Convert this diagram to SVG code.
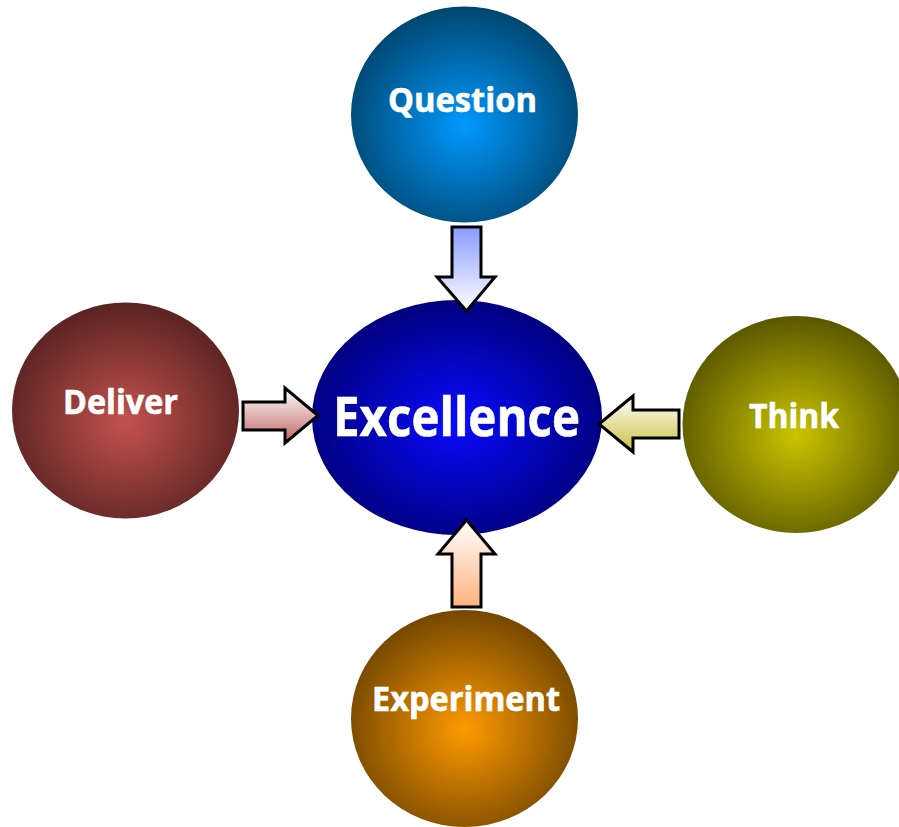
<svg xmlns="http://www.w3.org/2000/svg" width="899" height="827" viewBox="0 0 899 827">
  <defs>
    <radialGradient id="gQuestion" cx="50%" cy="55%" r="55%">
      <stop offset="0" stop-color="#0099ff"/>
      <stop offset="1" stop-color="#00466f"/>
    </radialGradient>
    <radialGradient id="gExcellence" cx="50%" cy="52%" r="55%">
      <stop offset="0" stop-color="#0a0aff"/>
      <stop offset="1" stop-color="#000078"/>
    </radialGradient>
    <radialGradient id="gDeliver" cx="50%" cy="55%" r="55%">
      <stop offset="0" stop-color="#c4524f"/>
      <stop offset="1" stop-color="#5a2322"/>
    </radialGradient>
    <radialGradient id="gThink" cx="50%" cy="55%" r="55%">
      <stop offset="0" stop-color="#cbc400"/>
      <stop offset="1" stop-color="#5a5800"/>
    </radialGradient>
    <radialGradient id="gExperiment" cx="50%" cy="55%" r="55%">
      <stop offset="0" stop-color="#ff9a00"/>
      <stop offset="1" stop-color="#744700"/>
    </radialGradient>
    <linearGradient id="aDown" x1="0" y1="0" x2="0" y2="1">
      <stop offset="0" stop-color="#8a9bff"/>
      <stop offset="1" stop-color="#ffffff"/>
    </linearGradient>
    <linearGradient id="aRight" x1="0" y1="0" x2="0" y2="1">
      <stop offset="0" stop-color="#ffffff"/>
      <stop offset="1" stop-color="#bd6664"/>
    </linearGradient>
    <linearGradient id="aLeft" x1="0" y1="0" x2="0" y2="1">
      <stop offset="0" stop-color="#ffffff"/>
      <stop offset="1" stop-color="#c9c03c"/>
    </linearGradient>
    <linearGradient id="aUp" x1="0" y1="0" x2="0" y2="1">
      <stop offset="0" stop-color="#ffffff"/>
      <stop offset="1" stop-color="#ffb27e"/>
    </linearGradient>
    <style>
      .lbl { font-family: "Open Sans", "Liberation Sans", sans-serif; font-weight: bold; fill: #ffffff; text-anchor: middle; stroke: #ffffff; stroke-width: 0.6; }
      .arrow { stroke: #000000; stroke-width: 3; stroke-linejoin: miter; }
    </style>
  </defs>

  <rect width="899" height="827" fill="#ffffff"/>

  <g id="question">
    <ellipse cx="464.5" cy="114.5" rx="113.5" ry="108" fill="url(#gQuestion)"/>
    <text class="lbl" x="462.5" y="111.5" font-size="34" textLength="149" lengthAdjust="spacingAndGlyphs">Question</text>
  </g>

  <g id="deliver">
    <ellipse cx="125.5" cy="410.5" rx="113.5" ry="108" fill="url(#gDeliver)"/>
    <text class="lbl" x="120.5" y="414" font-size="34" textLength="115" lengthAdjust="spacingAndGlyphs">Deliver</text>
  </g>

  <g id="think">
    <ellipse cx="796" cy="424.5" rx="113.5" ry="108.5" fill="url(#gThink)"/>
    <text class="lbl" x="794" y="427.5" font-size="34" textLength="90" lengthAdjust="spacingAndGlyphs">Think</text>
  </g>

  <g id="experiment">
    <ellipse cx="464.5" cy="718.5" rx="113.5" ry="108.5" fill="url(#gExperiment)"/>
    <text class="lbl" x="466" y="711" font-size="34" textLength="188" lengthAdjust="spacingAndGlyphs">Experiment</text>
  </g>

  <g id="excellence">
    <ellipse cx="457" cy="417.5" rx="145" ry="117.5" fill="url(#gExcellence)"/>
    <text class="lbl" x="456.5" y="436" font-size="53" textLength="247" lengthAdjust="spacingAndGlyphs">Excellence</text>
  </g>

  <g id="connectors">
    <!-- Question to Excellence -->
    <path class="arrow" fill="url(#aDown)" d="M452,227 H481 V277 H495 L466.5,311 L437,277 H452 Z"/>
    <!-- Deliver to Excellence -->
    <path class="arrow" fill="url(#aRight)" d="M243,402 H285 V388 L318,415.5 L285,443 V430 H243 Z"/>
    <!-- Think to Excellence -->
    <path class="arrow" fill="url(#aLeft)" d="M679,410 H633 V396 L599,424 L633,452 V438 H679 Z"/>
    <!-- Experiment to Excellence -->
    <path class="arrow" fill="url(#aUp)" d="M452,607 H481 V554 H495 L466.5,520 L438,554 H452 Z"/>
  </g>
</svg>
